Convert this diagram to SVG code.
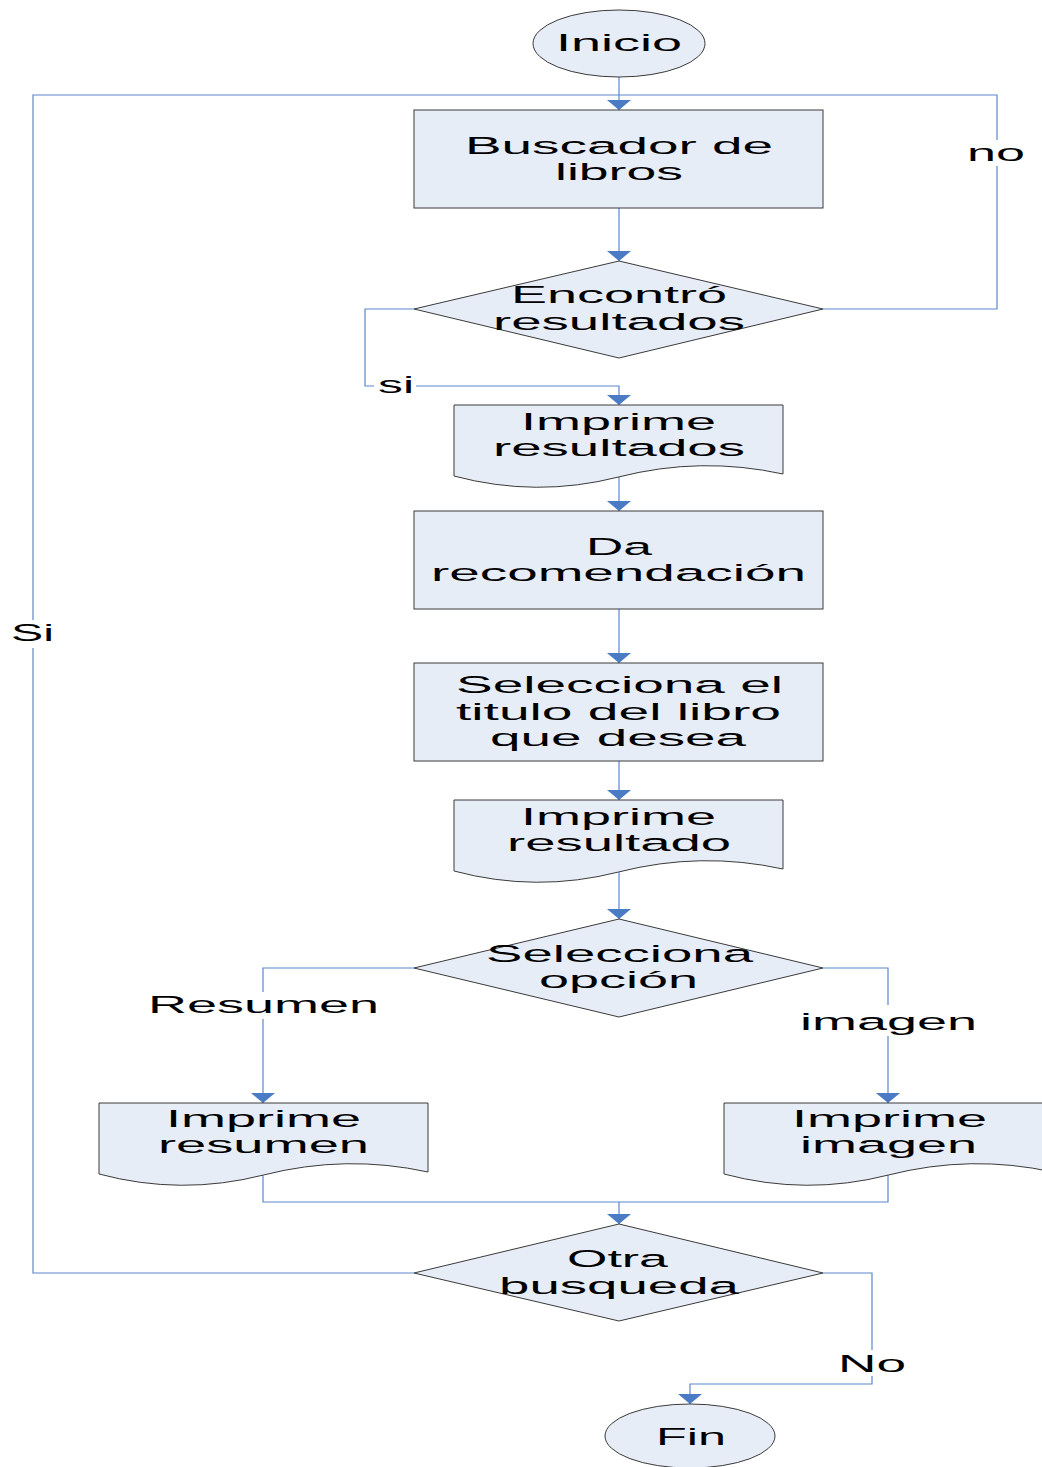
<svg xmlns="http://www.w3.org/2000/svg" width="1042" height="1467" viewBox="0 0 1042 1467">
<style>
.s{fill:#E7EDF7;stroke:#3a3a3a;stroke-width:1}
.c{fill:none;stroke:#5A88CC;stroke-width:1.2}
.t{font-family:"Liberation Sans",Arial,sans-serif;font-size:24.5px;fill:#000}
.bg{fill:#fff}
</style>
<defs>
<marker id="ah" markerUnits="userSpaceOnUse" viewBox="0 0 10 24" markerWidth="10" markerHeight="24" refX="10" refY="12" orient="auto">
<path d="M0,0 L10,12 L0,24 z" fill="#4A7BC4"/>
</marker>
</defs>
<rect width="1042" height="1467" fill="#fff"/>
<g id="connectors">
<path class="c" d="M619,77 V110" marker-end="url(#ah)"/>
<path class="c" d="M619,208 V261" marker-end="url(#ah)"/>
<path class="c" d="M414,309 H365 V386 H619 V405" marker-end="url(#ah)"/>
<path class="c" d="M619,477 V511" marker-end="url(#ah)"/>
<path class="c" d="M619,609 V663" marker-end="url(#ah)"/>
<path class="c" d="M619,761 V800" marker-end="url(#ah)"/>
<path class="c" d="M619,872 V919" marker-end="url(#ah)"/>
<path class="c" d="M414,968 H263 V1103" marker-end="url(#ah)"/>
<path class="c" d="M823,968 H888 V1103" marker-end="url(#ah)"/>
<path class="c" d="M263,1175 V1202 H888 V1175"/>
<path class="c" d="M619,1202 V1224" marker-end="url(#ah)"/>
<path class="c" d="M414,1273 H33 V95 H619"/>
<path class="c" d="M823,309 H997 V95 H619"/>
<path class="c" d="M823,1273 H872 V1384 H690 V1404" marker-end="url(#ah)"/>
<rect class="bg" x="374" y="374" width="42" height="24"/>
<text class="t" x="378" y="393" textLength="36" lengthAdjust="spacingAndGlyphs">si</text>
<rect class="bg" x="962" y="140" width="68" height="26"/>
<text class="t" x="967" y="161" textLength="58" lengthAdjust="spacingAndGlyphs">no</text>
<rect class="bg" x="8" y="620" width="50" height="28"/>
<text class="t" x="11" y="641" textLength="43" lengthAdjust="spacingAndGlyphs">Si</text>
<rect class="bg" x="145" y="992" width="237" height="27"/>
<text class="t" x="148" y="1013" textLength="231" lengthAdjust="spacingAndGlyphs">Resumen</text>
<rect class="bg" x="796" y="1005" width="185" height="31"/>
<text class="t" x="800" y="1030" textLength="177" lengthAdjust="spacingAndGlyphs">imagen</text>
<rect class="bg" x="835" y="1350" width="75" height="26"/>
<text class="t" x="838" y="1372" textLength="68" lengthAdjust="spacingAndGlyphs">No</text>
</g>
<g id="inicio">
<ellipse class="s" cx="619" cy="43.5" rx="86" ry="33.5"/>
<text class="t" x="556" y="51" textLength="126" lengthAdjust="spacingAndGlyphs">Inicio</text>
</g>
<g id="buscador">
<rect class="s" x="414" y="110" width="409" height="98"/>
<text class="t" x="465" y="154" textLength="308" lengthAdjust="spacingAndGlyphs">Buscador de</text>
<text class="t" x="555" y="180" textLength="128" lengthAdjust="spacingAndGlyphs">libros</text>
</g>
<g id="encontro">
<polygon class="s" points="619,261 823,309 619,358 414,309"/>
<text class="t" x="511" y="303" textLength="216" lengthAdjust="spacingAndGlyphs">Encontró</text>
<text class="t" x="493" y="330" textLength="252" lengthAdjust="spacingAndGlyphs">resultados</text>
</g>
<g id="imprime-resultados">
<path class="s" d="M454,405 H783 V474 Q700.75,456 618.5,477 T454,476 Z"/>
<text class="t" x="521" y="430" textLength="195" lengthAdjust="spacingAndGlyphs">Imprime</text>
<text class="t" x="493" y="456" textLength="252" lengthAdjust="spacingAndGlyphs">resultados</text>
</g>
<g id="recomendacion">
<rect class="s" x="414" y="511" width="409" height="98"/>
<text class="t" x="586" y="555" textLength="66" lengthAdjust="spacingAndGlyphs">Da</text>
<text class="t" x="431" y="581" textLength="375" lengthAdjust="spacingAndGlyphs">recomendación</text>
</g>
<g id="selecciona-titulo">
<rect class="s" x="414" y="663" width="409" height="98"/>
<text class="t" x="456" y="693" textLength="327" lengthAdjust="spacingAndGlyphs">Selecciona el</text>
<text class="t" x="456" y="720" textLength="325" lengthAdjust="spacingAndGlyphs">titulo del libro</text>
<text class="t" x="490" y="746" textLength="256" lengthAdjust="spacingAndGlyphs">que desea</text>
</g>
<g id="imprime-resultado">
<path class="s" d="M454,800 H783 V869 Q700.75,851 618.5,872 T454,871 Z"/>
<text class="t" x="521" y="825" textLength="195" lengthAdjust="spacingAndGlyphs">Imprime</text>
<text class="t" x="507" y="851" textLength="224" lengthAdjust="spacingAndGlyphs">resultado</text>
</g>
<g id="selecciona-opcion">
<polygon class="s" points="619,919 823,968 619,1017 414,968"/>
<text class="t" x="486" y="962" textLength="267" lengthAdjust="spacingAndGlyphs">Selecciona</text>
<text class="t" x="539" y="988" textLength="159" lengthAdjust="spacingAndGlyphs">opción</text>
</g>
<g id="imprime-resumen">
<path class="s" d="M99,1103 H428 V1172 Q345.75,1154 263.5,1175 T99,1174 Z"/>
<text class="t" x="166" y="1127" textLength="195" lengthAdjust="spacingAndGlyphs">Imprime</text>
<text class="t" x="158" y="1153" textLength="211" lengthAdjust="spacingAndGlyphs">resumen</text>
</g>
<g id="imprime-imagen">
<path class="s" d="M724,1103 H1053 V1172 Q970.75,1154 888.5,1175 T724,1174 Z"/>
<text class="t" x="792" y="1127" textLength="195" lengthAdjust="spacingAndGlyphs">Imprime</text>
<text class="t" x="800" y="1153" textLength="177" lengthAdjust="spacingAndGlyphs">imagen</text>
</g>
<g id="otra-busqueda">
<polygon class="s" points="619,1224 823,1273 619,1321 414,1273"/>
<text class="t" x="567" y="1267" textLength="101" lengthAdjust="spacingAndGlyphs">Otra</text>
<text class="t" x="499" y="1294" textLength="240" lengthAdjust="spacingAndGlyphs">busqueda</text>
</g>
<g id="fin">
<ellipse class="s" cx="690" cy="1436" rx="85" ry="32"/>
<text class="t" x="656" y="1445" textLength="70" lengthAdjust="spacingAndGlyphs">Fin</text>
</g>
</svg>
